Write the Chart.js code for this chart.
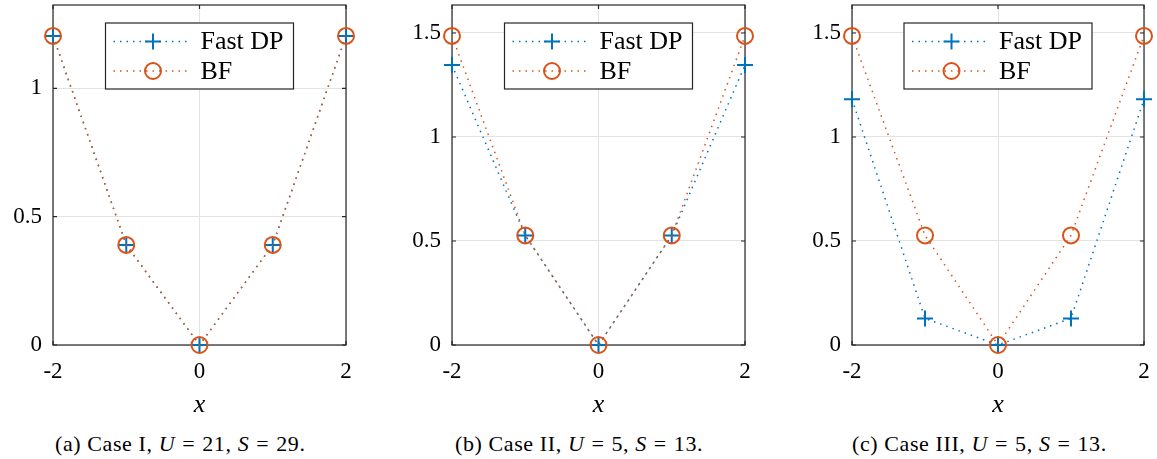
<!DOCTYPE html>
<html>
<head>
<meta charset="utf-8">
<script src="https://cdn.jsdelivr.net/npm/chart.js@4"></script>
<style>
  body { margin: 0; width: 1157px; height: 459px; background: #fff; position: relative; overflow: hidden; font-family: "Liberation Serif", serif; }
  canvas { position: absolute; top: 0; }
  .cap { position: absolute; top: 431px; font-size: 22px; letter-spacing: 0.6px; white-space: nowrap; color: #000; }
  .cap i { font-style: italic; }
  .cap b { font-weight: normal; margin: 0 7px; }
</style>
</head>
<body>
<canvas id="c1" width="360" height="425" style="left:0px"></canvas>
<canvas id="c2" width="365" height="425" style="left:395px"></canvas>
<canvas id="c3" width="362" height="425" style="left:795px"></canvas>
<div class="cap" style="left:55px">(a) Case I, <i>U</i><b>=</b>21, <i>S</i><b>=</b>29.</div>
<div class="cap" style="left:455px">(b) Case II, <i>U</i><b>=</b>5, <i>S</i><b>=</b>13.</div>
<div class="cap" style="left:852px">(c) Case III, <i>U</i><b>=</b>5, <i>S</i><b>=</b>13.</div>
<script>
const xs = [-2, -1, 0, 1, 2];
const xTicks = [-2, 0, 2];
const yTicksA = [0, 0.5, 1];
const yTicksB = [0, 0.5, 1, 1.5];

const fastA = [1.204, 0.39, 0, 0.39, 1.204];
const bfA   = [1.204, 0.39, 0, 0.39, 1.204];
const fastB = [1.346, 0.527, 0, 0.527, 1.346];
const bfB   = [1.486, 0.527, 0, 0.527, 1.486];
const fastC = [1.181, 0.128, 0, 0.128, 1.181];
const bfC   = [1.486, 0.527, 0, 0.527, 1.486];

const blue = '#0072BD';
const orange = '#D95319';
const serif = '"Liberation Serif", serif';

// axes box + inward ticks, drawn under the data like matlab
const boxPlugin = {
  id: 'matBox',
  beforeDatasetsDraw(chart) {
    const {ctx, chartArea: a, scales} = chart;
    ctx.save();
    ctx.strokeStyle = '#262626';
    ctx.lineWidth = 1.2;
    ctx.beginPath();
    scales.x.ticks.forEach(t => {
      const px = scales.x.getPixelForValue(t.value);
      ctx.moveTo(px, a.bottom); ctx.lineTo(px, a.bottom - 4);
      ctx.moveTo(px, a.top); ctx.lineTo(px, a.top + 4);
    });
    scales.y.ticks.forEach(t => {
      const py = scales.y.getPixelForValue(t.value);
      ctx.moveTo(a.left, py); ctx.lineTo(a.left + 4, py);
      ctx.moveTo(a.right, py); ctx.lineTo(a.right - 4, py);
    });
    ctx.stroke();
    ctx.strokeRect(a.left, a.top, a.right - a.left, a.bottom - a.top);
    ctx.restore();
  }
};

// legend box with dotted line sample and marker
const legendPlugin = {
  id: 'matLegend',
  afterDatasetsDraw(chart) {
    const {ctx, chartArea: a} = chart;
    const w = 188, h = 66;
    const left = (a.left + a.right) / 2 - w / 2;
    const top = a.top + 18;
    ctx.save();
    ctx.fillStyle = '#fff';
    ctx.fillRect(left, top, w, h);
    ctx.strokeStyle = '#262626';
    ctx.lineWidth = 1.2;
    ctx.strokeRect(left, top, w, h);
    chart.data.datasets.slice().reverse().forEach((ds, i) => {
      const cy = top + 18.5 + i * 29.5;
      ctx.strokeStyle = ds.borderColor;
      ctx.lineWidth = ds.borderWidth;
      ctx.setLineDash(ds.borderDash);
      ctx.beginPath();
      ctx.moveTo(left + 8, cy); ctx.lineTo(left + 83, cy);
      ctx.stroke();
      ctx.setLineDash([]);
      ctx.lineWidth = ds.pointBorderWidth;
      const mx = left + 47.5, r = ds.pointRadius;
      ctx.beginPath();
      if (ds.pointStyle === 'cross') {
        ctx.moveTo(mx - r, cy); ctx.lineTo(mx + r, cy);
        ctx.moveTo(mx, cy - r); ctx.lineTo(mx, cy + r);
      } else {
        ctx.arc(mx, cy, r, 0, Math.PI * 2);
      }
      ctx.stroke();
      ctx.fillStyle = '#000';
      ctx.font = '26px ' + serif;
      ctx.textBaseline = 'middle';
      ctx.fillText(ds.label, left + 95, cy + 1);
    });
    ctx.restore();
  }
};

function makeChart(id, fast, bf, yTicks, yWidth, padRight) {
  const ymax = Math.max(...fast, ...bf) * 1.1;
  return new Chart(document.getElementById(id), {
    type: 'line',
    data: {
      labels: xs,
      datasets: [
        {
          label: 'BF', data: xs.map((x, i) => ({x, y: bf[i]})),
          borderColor: orange, borderWidth: 1.5, borderDash: [1.5, 5],
          pointStyle: 'circle', pointRadius: 8, pointBorderWidth: 2,
          pointBackgroundColor: 'rgba(0,0,0,0)', pointBorderColor: orange,
          clip: false, order: 0
        },
        {
          label: 'Fast DP', data: xs.map((x, i) => ({x, y: fast[i]})),
          borderColor: blue, borderWidth: 1.5, borderDash: [1.5, 5],
          pointStyle: 'cross', pointRadius: 8, pointBorderWidth: 2,
          pointBorderColor: blue, clip: false, order: 1
        }
      ]
    },
    options: {
      responsive: false,
      animation: false,
      layout: { autoPadding: false, padding: { top: 5, right: padRight, left: 0, bottom: 0 } },
      plugins: { legend: { display: false }, tooltip: { enabled: false } },
      scales: {
        x: {
          type: 'linear', min: -2, max: 2,
          afterBuildTicks: s => { s.ticks = xTicks.map(v => ({value: v})); },
          afterFit: s => { s.height = 80; s.paddingLeft = 0; s.paddingRight = 0; },
          grid: { color: '#e3e3e3', drawTicks: false },
          border: { display: false },
          ticks: { color: '#000', padding: 13, font: { family: serif, size: 23 }, callback: v => String(v) },
          title: { display: true, text: 'x', color: '#000', padding: { top: 6 }, font: { family: serif, size: 26, style: 'italic' } }
        },
        y: {
          min: 0, max: ymax,
          afterBuildTicks: s => { s.ticks = yTicks.map(v => ({value: v})); },
          afterFit: s => { s.width = yWidth; s.paddingTop = 0; s.paddingBottom = 0; },
          grid: { color: '#e3e3e3', drawTicks: false },
          border: { display: false },
          ticks: { color: '#000', padding: 11, font: { family: serif, size: 23 }, callback: v => String(v) }
        }
      }
    },
    plugins: [boxPlugin, legendPlugin]
  });
}

makeChart('c1', fastA, bfA, yTicksA, 53, 14);
makeChart('c2', fastB, bfB, yTicksB, 57, 15);
makeChart('c3', fastC, bfC, yTicksB, 57, 13);
</script>
</body>
</html>
